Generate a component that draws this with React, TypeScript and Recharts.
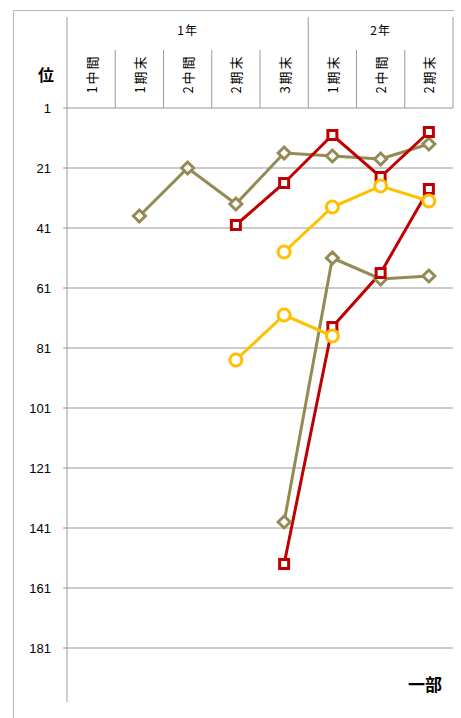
import { LineChart, Line, XAxis, YAxis, CartesianGrid } from 'recharts';

const categories = ['1中間', '1期末', '2中間', '2期末', '3期末', '1期末', '2中間', '2期末'];
const groups = [
  { name: '1年', count: 5 },
  { name: '2年', count: 3 },
];
const rankTicks = [1, 21, 41, 61, 81, 101, 121, 141, 161, 181];

const olive1 = [null, 37, 21, 33, 16, 17, 18, 13];
const red1 = [null, null, null, 40, 26, 10, 24, 9];
const yellow1 = [null, null, null, null, 49, 34, 27, 32];
const olive2 = [null, null, null, null, 139, 51, 58, 57];
const red2 = [null, null, null, null, 153, 74, 56, 28];
const yellow2 = [null, null, null, 85, 70, 77, null, null];

const data = categories.map((label, i) => ({
  label,
  olive1: olive1[i],
  red1: red1[i],
  yellow1: yellow1[i],
  olive2: olive2[i],
  red2: red2[i],
  yellow2: yellow2[i],
}));

const W = 461;
const H = 718;
const LEFT = 67;
const RIGHT = 8;
const TOP = 10;
const HEADER = 98;
const BOTTOM = 16;
const BAND = (W - LEFT - RIGHT) / categories.length;
const HEAD_TOP = 17;
const SUB_TOP = 50;
const PLOT_TOP = TOP + HEADER;
const LABEL_Y = 74;

const OLIVE = '#948A54';
const RED = '#C00000';
const YELLOW = '#FFC000';
const GRID = '#9a9a9a';
const JP = '"Noto Sans CJK JP", sans-serif';

const groupStarts: number[] = [];
groups.reduce((s, g) => {
  groupStarts.push(s);
  return s + g.count;
}, 0);
const groupEnds = groups.map((g, i) => groupStarts[i] + g.count - 1);

function HeaderTick(props: any) {
  const { x, index, payload } = props;
  const gi = groupStarts.indexOf(index);
  const isEnd = groupEnds.includes(index);
  return (
    <g>
      {index === 0 && (
        <line x1={x - BAND / 2} x2={x - BAND / 2} y1={HEAD_TOP} y2={PLOT_TOP} stroke={GRID} />
      )}
      <line
        x1={x + BAND / 2}
        x2={x + BAND / 2}
        y1={isEnd ? HEAD_TOP : SUB_TOP}
        y2={PLOT_TOP}
        stroke={GRID}
      />
      {gi >= 0 && (
        <text
          x={x + ((groups[gi].count - 1) / 2) * BAND}
          y={29}
          textAnchor="middle"
          dominantBaseline="central"
          fontSize={12}
          fontFamily={JP}
          letterSpacing={1}
          fill="#000"
        >
          {groups[gi].name}
        </text>
      )}
      <text
        x={x}
        y={LABEL_Y}
        transform={`rotate(-90, ${x}, ${LABEL_Y})`}
        textAnchor="middle"
        dominantBaseline="central"
        fontSize={13}
        letterSpacing={2}
        fontFamily={JP}
        fill="#000"
      >
        {payload.value}
      </text>
    </g>
  );
}

function makeDot(shape: 'square' | 'diamond' | 'circle', color: string) {
  return (props: any) => {
    const { cx, cy, index, value } = props;
    if (value == null || cx == null || cy == null) return <g key={`e-${index}`} />;
    if (shape === 'square')
      return (
        <rect key={`d-${index}`} x={cx - 4.5} y={cy - 4.5} width={9} height={9} fill="#fff" stroke={color} strokeWidth={3} />
      );
    if (shape === 'diamond')
      return (
        <polygon
          key={`d-${index}`}
          points={`${cx},${cy - 6} ${cx + 6},${cy} ${cx},${cy + 6} ${cx - 6},${cy}`}
          fill="#fff"
          stroke={color}
          strokeWidth={3}
        />
      );
    return <circle key={`d-${index}`} cx={cx} cy={cy} r={6} fill="#fff" stroke={color} strokeWidth={3} />;
  };
}

const series = [
  { key: 'olive1', color: OLIVE, shape: 'diamond' as const },
  { key: 'olive2', color: OLIVE, shape: 'diamond' as const },
  { key: 'red1', color: RED, shape: 'square' as const },
  { key: 'red2', color: RED, shape: 'square' as const },
  { key: 'yellow1', color: YELLOW, shape: 'circle' as const },
  { key: 'yellow2', color: YELLOW, shape: 'circle' as const },
];

export default function App() {
  return (
    <div style={{ position: 'absolute', left: 0, top: 0, width: W, height: H, background: '#fff' }}>
      <div
        style={{
          position: 'absolute',
          left: 13,
          top: 10,
          width: W - 13 - RIGHT,
          height: H - 10,
          borderLeft: '1px solid #b8b8b8',
          borderTop: '1px solid #b8b8b8',
        }}
      />
      <div style={{ position: 'absolute', left: 0, top: 0 }}>
        <LineChart width={W} height={H} data={data} margin={{ top: TOP, right: RIGHT, bottom: BOTTOM, left: 0 }}>
          <CartesianGrid horizontal vertical={false} stroke={GRID} horizontalValues={rankTicks} />
          <XAxis
            dataKey="label"
            orientation="top"
            height={HEADER}
            axisLine={false}
            tickLine={false}
            interval={0}
            padding={{ left: BAND / 2, right: BAND / 2 }}
            tick={HeaderTick}
          />
          <YAxis
            type="number"
            reversed
            domain={[1, 199]}
            ticks={rankTicks}
            interval={0}
            width={LEFT}
            axisLine={{ stroke: GRID }}
            tickLine={{ stroke: GRID }}
            tickSize={4}
            tickMargin={12}
            tick={{ fill: '#000', fontSize: 13, fontFamily: '"Liberation Sans", Arial, sans-serif' }}
          />
          {series.map((s) => (
            <Line
              key={s.key}
              type="linear"
              dataKey={s.key}
              stroke={s.color}
              strokeWidth={3}
              dot={makeDot(s.shape, s.color)}
              activeDot={false}
              connectNulls={false}
              isAnimationActive={false}
            />
          ))}
        </LineChart>
      </div>
      <div
        style={{
          position: 'absolute',
          left: 46,
          top: 74,
          transform: 'translate(-50%, -50%)',
          fontFamily: JP,
          fontWeight: 'bold',
          fontSize: 16,
        }}
      >
        位
      </div>
      <div
        style={{
          position: 'absolute',
          left: 425,
          top: 683,
          transform: 'translate(-50%, -50%)',
          fontFamily: JP,
          fontWeight: 'bold',
          fontSize: 17,
        }}
      >
        一部
      </div>
    </div>
  );
}
